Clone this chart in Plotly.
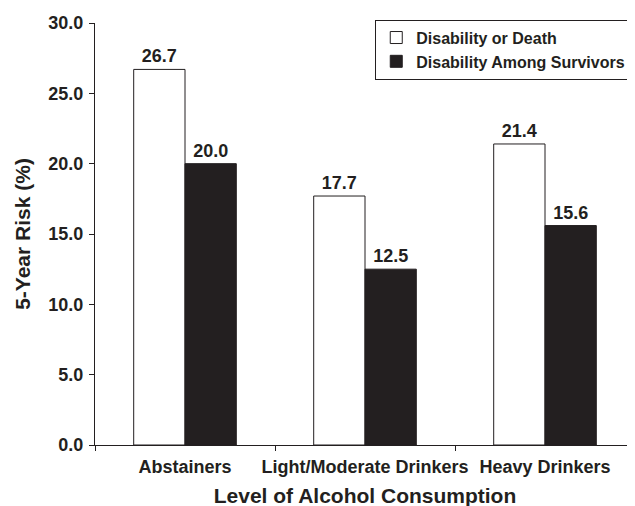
import plotly.graph_objects as go

categories = ["Abstainers", "Light/Moderate Drinkers", "Heavy Drinkers"]
disability_or_death = [26.7, 17.7, 21.4]
disability_survivors = [20.0, 12.5, 15.6]
y_ticks = [0, 5, 10, 15, 20, 25, 30]
y_tick_labels = ["0.0", "5.0", "10.0", "15.0", "20.0", "25.0", "30.0"]

FONT = "Arial, Liberation Sans, sans-serif"
INK = "#231f20"

fig = go.Figure()
fig.add_trace(go.Bar(
    name="Disability or Death", x=categories, y=disability_or_death,
    marker=dict(color="white", line=dict(color=INK, width=1)),
    text=[f"{v:.1f}" for v in disability_or_death], textposition="outside",
    textfont=dict(family=FONT, size=18, color=INK, weight="bold"), cliponaxis=False,
))
fig.add_trace(go.Bar(
    name="Disability Among Survivors", x=categories, y=disability_survivors,
    marker=dict(color=INK, line=dict(color=INK, width=1)),
    text=[f"{v:.1f}" for v in disability_survivors], textposition="outside",
    textfont=dict(family=FONT, size=18, color=INK, weight="bold"), cliponaxis=False,
))

fig.update_layout(
    width=635, height=506,
    margin=dict(l=87, r=8, t=15, b=69),
    paper_bgcolor="white", plot_bgcolor="white",
    barmode="group", bargap=0.43, bargroupgap=0,
    font=dict(family=FONT, size=18, color=INK, weight="bold"),
    showlegend=True,
    legend=dict(
        x=0.519, y=1.008, xanchor="left", yanchor="top",
        bgcolor="white", bordercolor=INK, borderwidth=1,
        font=dict(family=FONT, size=16, color=INK, weight="bold"),
        tracegroupgap=0, itemwidth=30,
    ),
    xaxis=dict(
        showline=True, linecolor=INK, linewidth=1,
        ticks="outside", ticklen=5, tickcolor=INK, tickson="boundaries",
        tickangle=0, automargin=False, ticklabelstandoff=5,
        tickfont=dict(family=FONT, size=18, weight="bold"),
        title=dict(text="Level of Alcohol Consumption", standoff=12,
                   font=dict(family=FONT, size=21, weight="bold")),
    ),
    yaxis=dict(
        range=[0, 30], tickvals=y_ticks, ticktext=y_tick_labels,
        showline=True, linecolor=INK, linewidth=1,
        ticks="outside", ticklen=5, tickcolor=INK,
        showgrid=False, zeroline=False, automargin=False, ticklabelstandoff=2,
        tickfont=dict(family=FONT, size=18, weight="bold"),
        title=dict(text="5-Year Risk (%)", standoff=12,
                   font=dict(family=FONT, size=21, weight="bold")),
    ),
)

fig.write_html("out.html")
